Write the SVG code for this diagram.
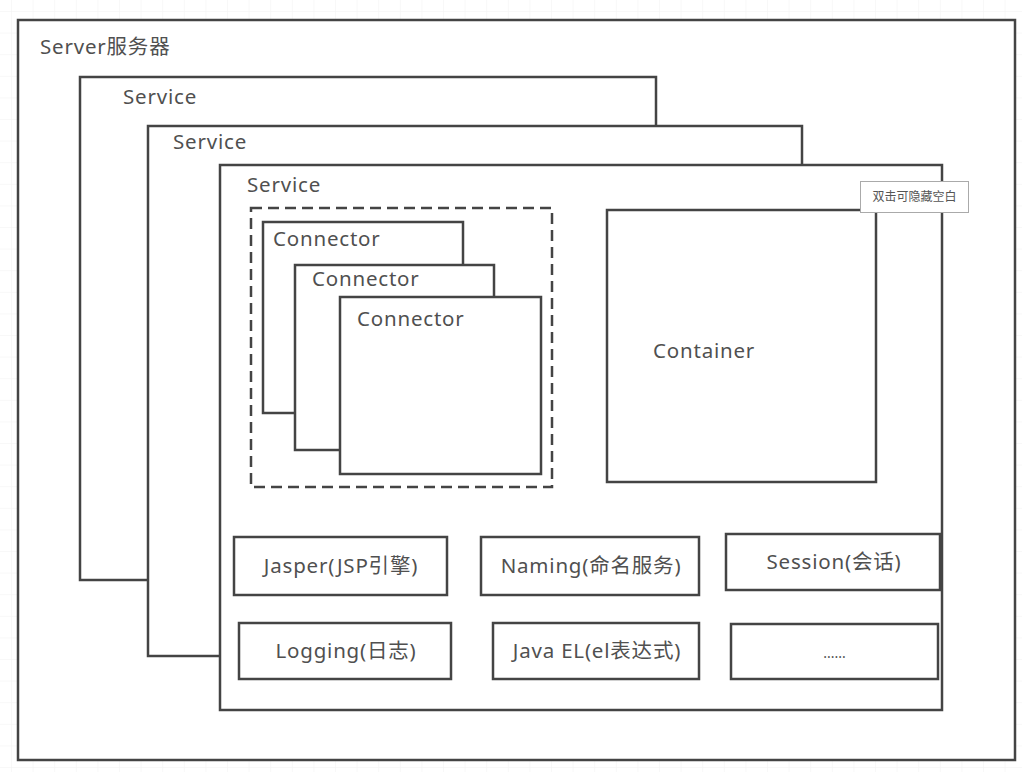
<svg xmlns="http://www.w3.org/2000/svg" width="1022" height="772" viewBox="0 0 1022 772">
<defs>
<pattern id="grid" width="21.6" height="21.6" patternUnits="userSpaceOnUse" x="12" y="12">
<path d="M21.6 0V21.6H0" fill="none" stroke="#f2f2f2" stroke-width="1"/>
</pattern>
<style>
.box{fill:#fff;stroke:#444;stroke-width:2.5}
.dash{fill:none;stroke:#444;stroke-width:2.5;stroke-dasharray:11 6}
.t{font-family:"Noto Sans","Noto Sans CJK SC",sans-serif;font-size:20.5px;fill:#505050;letter-spacing:0.8px}
.c{text-anchor:middle}
.tip{fill:#fff;stroke:#aaa;stroke-width:1}
.tt{font-family:"Noto Sans CJK SC","Noto Sans",sans-serif;font-size:12px;fill:#555}
</style>
</defs>
<rect width="1022" height="772" fill="#fff"/>
<rect width="1022" height="772" fill="url(#grid)"/>
<g id="server">
<rect class="box" x="18" y="20" width="997" height="740"/>
<text class="t" x="40" y="54">Server服务器</text>
</g>
<g id="service1">
<rect class="box" x="80" y="77" width="576" height="503"/>
<text class="t" x="123" y="104">Service</text>
</g>
<g id="service2">
<rect class="box" x="148" y="126" width="654" height="530"/>
<text class="t" x="173" y="149">Service</text>
</g>
<g id="service3">
<rect class="box" x="220" y="165" width="722" height="545"/>
<text class="t" x="247" y="192">Service</text>
</g>
<g id="connectors-group">
<rect class="dash" x="251" y="208" width="301" height="279"/>
</g>
<g id="connector1">
<rect class="box" x="263" y="222" width="200" height="191"/>
<text class="t" x="273" y="246">Connector</text>
</g>
<g id="connector2">
<rect class="box" x="295" y="265" width="199" height="185"/>
<text class="t" x="312" y="286">Connector</text>
</g>
<g id="connector3">
<rect class="box" x="340" y="297" width="201" height="177"/>
<text class="t" x="357" y="326">Connector</text>
</g>
<g id="container">
<rect class="box" x="607" y="210" width="269" height="272"/>
<text class="t" x="653" y="358">Container</text>
</g>
<g id="jasper">
<rect class="box" x="234" y="537" width="213" height="58"/>
<text class="t c" x="341" y="573">Jasper(JSP引擎)</text>
</g>
<g id="naming">
<rect class="box" x="481" y="537" width="218" height="58"/>
<text class="t c" x="591" y="573">Naming(命名服务)</text>
</g>
<g id="session">
<rect class="box" x="726" y="534" width="214" height="56"/>
<text class="t c" x="834" y="569">Session(会话)</text>
</g>
<g id="logging">
<rect class="box" x="239" y="623" width="212" height="56"/>
<text class="t c" x="346" y="658">Logging(日志)</text>
</g>
<g id="javael">
<rect class="box" x="493" y="623" width="206" height="56"/>
<text class="t c" x="597" y="658">Java EL(el表达式)</text>
</g>
<g id="more">
<rect class="box" x="731" y="624" width="207" height="55"/>
<text class="t c" x="834.5" y="658" style="font-size:14px;letter-spacing:0">......</text>
</g>
<g id="tooltip">
<rect class="tip" x="860.5" y="181.5" width="108" height="31"/>
<text class="tt" x="914.5" y="201" text-anchor="middle">双击可隐藏空白</text>
</g>
<g id="edges"></g>
</svg>
